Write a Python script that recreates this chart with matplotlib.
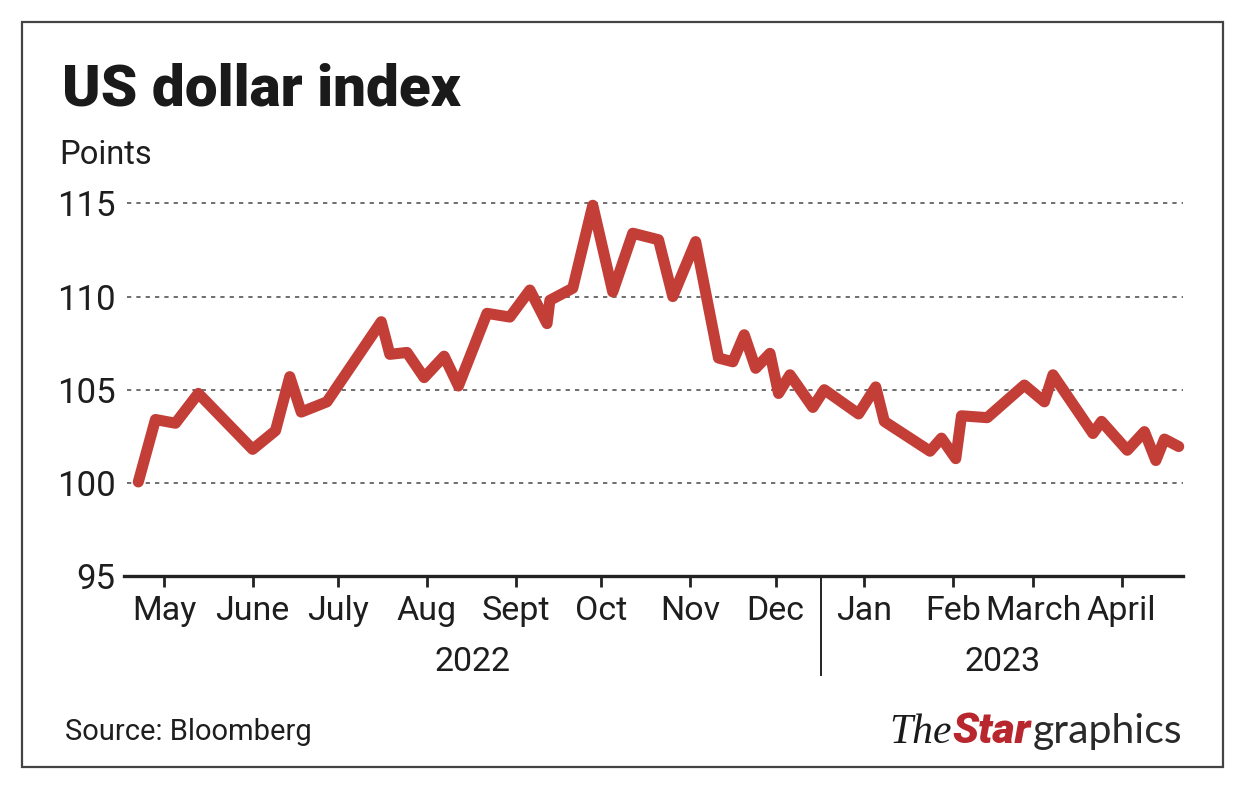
import numpy as np
import pandas as pd
import matplotlib
matplotlib.use("Agg")
import matplotlib.pyplot as plt
import matplotlib.dates as mdates
from matplotlib.patches import Rectangle
from matplotlib.transforms import blended_transform_factory

# valores (vertices da linha)
dates = ["2022-05-06", "2022-05-12", "2022-05-19", "2022-05-27", "2022-06-15",
         "2022-06-23", "2022-06-28", "2022-07-02", "2022-07-11", "2022-07-30",
         "2022-08-02", "2022-08-08", "2022-08-14", "2022-08-21", "2022-08-26",
         "2022-09-05", "2022-09-13", "2022-09-20", "2022-09-26", "2022-09-27",
         "2022-10-05", "2022-10-12", "2022-10-19", "2022-10-26", "2022-11-04",
         "2022-11-09", "2022-11-17", "2022-11-25", "2022-11-30", "2022-12-04",
         "2022-12-08", "2022-12-13", "2022-12-16", "2022-12-20", "2022-12-28",
         "2023-01-01", "2023-01-13", "2023-01-19", "2023-01-22", "2023-02-07",
         "2023-02-11", "2023-02-16", "2023-02-18", "2023-02-27", "2023-03-12",
         "2023-03-19", "2023-03-22", "2023-04-05", "2023-04-08", "2023-04-17",
         "2023-04-23", "2023-04-27", "2023-04-30", "2023-05-05"]
values = [100.05, 103.4, 103.2, 104.8, 101.8,
          102.8, 105.7, 103.8, 104.35, 108.65,
          106.9, 107.0, 105.65, 106.8, 105.2,
          109.1, 108.9, 110.35, 108.55, 109.8,
          110.45, 114.9, 110.25, 113.4, 113.05,
          110.0, 112.95, 106.7, 106.5, 107.95,
          106.15, 106.95, 104.8, 105.8, 104.05,
          105.0, 103.7, 105.15, 103.3, 101.7,
          102.4, 101.3, 103.6, 103.5, 105.25,
          104.35, 105.8, 102.65, 103.3, 101.75,
          102.75, 101.2, 102.35, 101.95]

month_ticks = ["2022-05-15", "2022-06-15", "2022-07-15", "2022-08-15", "2022-09-15",
               "2022-10-15", "2022-11-15", "2022-12-15", "2023-01-15", "2023-02-15",
               "2023-03-15", "2023-04-15"]
month_labels = ["May", "June", "July", "Aug", "Sept", "Oct", "Nov", "Dec",
                "Jan", "Feb", "March", "April"]
y_ticks = [95, 100, 105, 110, 115]
years = ["2022", "2023"]

LINE_COLOR = "#c43e38"
TEXT_COLOR = "#1e1e1e"

plt.rcParams["font.family"] = ["Roboto", "DejaVu Sans"]

x = pd.to_datetime(dates)
x_start = pd.Timestamp("2022-05-01")
x_end = pd.Timestamp("2023-05-06 12:00")
x_sep = pd.Timestamp("2022-12-31")

fig = plt.figure(figsize=(12.4, 7.9), dpi=100)
ax = fig.add_axes([124 / 1240, 1 - 576 / 790, (1183 - 124) / 1240, (576 - 184.8) / 790])

# grade pontilhada
for yv in y_ticks[1:]:
    ax.plot([pd.Timestamp("2022-05-02"), x_end], [yv, yv], color="#6e6e6e",
            lw=1.4, dashes=(2.2, 2.6), zorder=1)

ax.plot(x, values, color=LINE_COLOR, lw=8, solid_joinstyle="round",
        solid_capstyle="round", zorder=3, clip_on=False)

ax.set_xlim(x_start, x_end)
ax.set_ylim(95, 116)

ax.set_yticks(y_ticks)
ax.set_yticklabels([str(v) for v in y_ticks])
ax.tick_params(axis="y", length=0, pad=6, labelsize=25, labelcolor=TEXT_COLOR)

ax.set_xticks(pd.to_datetime(month_ticks))
ax.set_xticklabels(month_labels)
ax.tick_params(axis="x", length=8, width=2, color="#222222", pad=6,
               labelsize=24.5, labelcolor=TEXT_COLOR, direction="out")

for s in ["top", "right", "left"]:
    ax.spines[s].set_visible(False)
ax.spines["bottom"].set_linewidth(2.4)
ax.spines["bottom"].set_color("#222222")

# separador de ano
trans = blended_transform_factory(ax.transData, ax.transAxes)
ax.plot([x_sep, x_sep], [0, -0.253], color="#222222", lw=1.4,
        transform=trans, clip_on=False)

mid22 = x_start + (x_sep - x_start) / 2
mid23 = x_sep + (x_end - x_sep) / 2
ax.text(mid22, -0.22, years[0], transform=trans, ha="center", va="center",
        fontsize=24.5, color=TEXT_COLOR)
ax.text(mid23, -0.22, years[1], transform=trans, ha="center", va="center",
        fontsize=24.5, color=TEXT_COLOR)

# textos
fig.text(62 / 1240, 1 - 106 / 790, "US dollar index", fontsize=42,
         fontweight="black", color="#1a1a1a", va="baseline")
fig.text(59 / 1240, 1 - 164 / 790, "Points", fontsize=23.5, color=TEXT_COLOR,
         va="baseline")
fig.text(65 / 1240, 1 - 740 / 790, "Source: Bloomberg", fontsize=21,
         color=TEXT_COLOR, va="baseline")

# logo
fig.canvas.draw()
r = fig.canvas.get_renderer()
base_y = 1 - 743 / 790
t3 = fig.text(1182 / 1240, base_y, "graphics", fontsize=29.5, color="#2a2a2a",
              family=["Lato", "DejaVu Sans"], ha="right", va="baseline")
bb = t3.get_window_extent(r)
t2 = fig.text(bb.x0 / 1240 - 0.001, base_y, "Star", fontsize=31,
              color="#b8272d", fontweight="black", style="italic",
              ha="right", va="baseline")
bb2 = t2.get_window_extent(r)
fig.text(bb2.x0 / 1240 - 0.001, base_y, "The", fontsize=30, color="#1a1a1a",
         family=["Liberation Serif", "DejaVu Serif"], style="italic",
         ha="right", va="baseline")

# moldura
fig.patches.append(Rectangle((22 / 1240, 1 - 767 / 790), (1223 - 22) / 1240,
                             (767 - 22) / 790, transform=fig.transFigure,
                             fill=False, edgecolor="#444444", lw=1.6))

plt.savefig("out.png", dpi=100)
